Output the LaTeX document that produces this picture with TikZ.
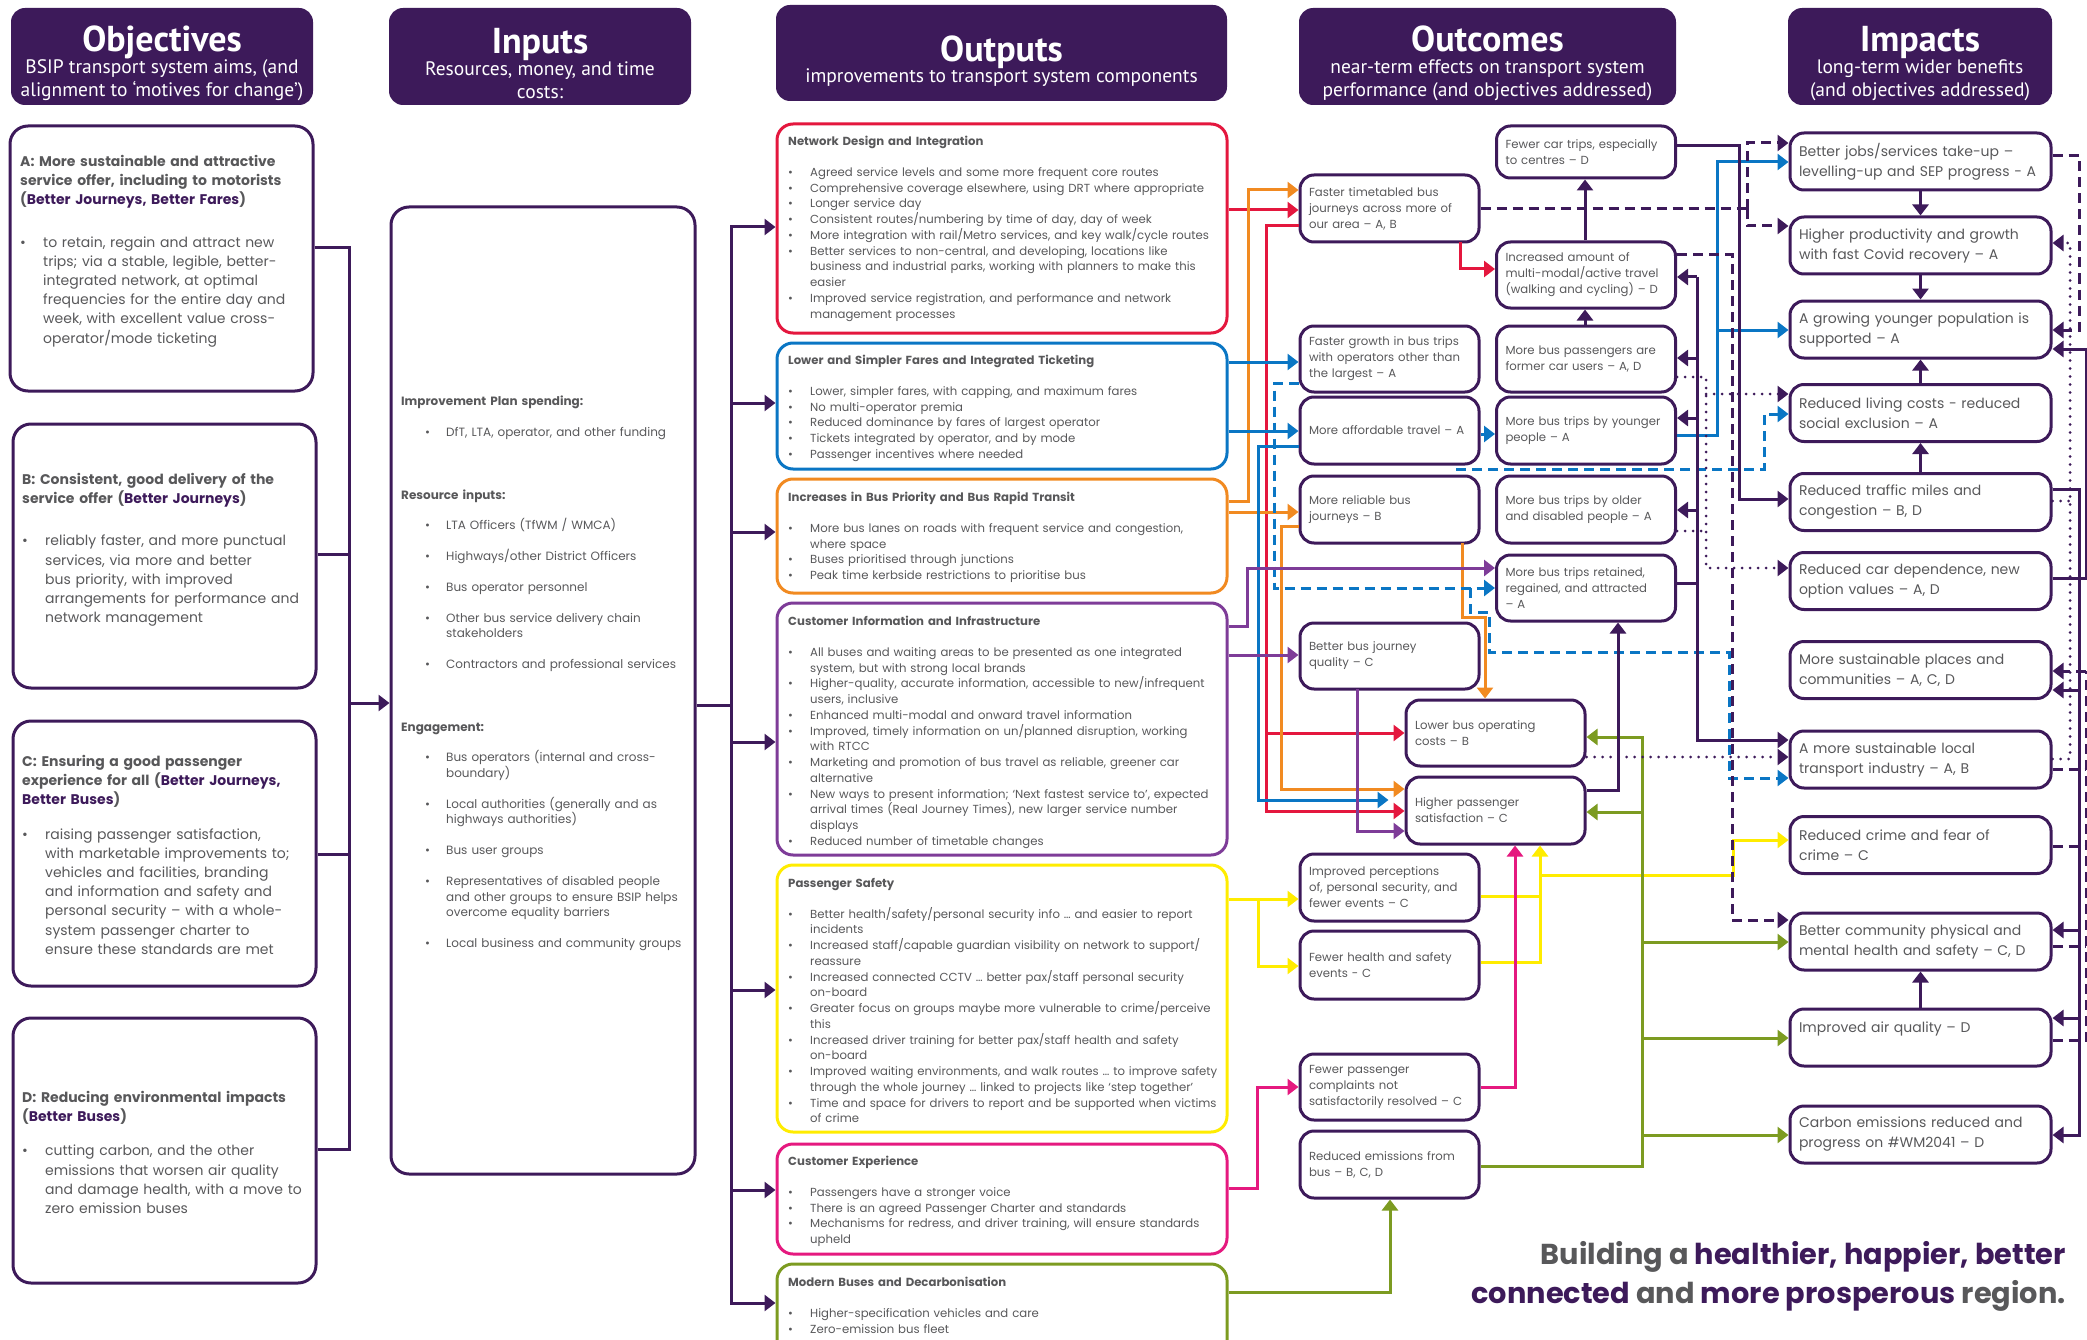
\documentclass[tikz,border=0pt]{standalone}
\usepackage{fontspec}
\setmainfont{Poppins}
\newfontfamily\hdrfont{PT Sans}
\usetikzlibrary{arrows.meta}

\definecolor{dk}{HTML}{3D1A5A}
\definecolor{txt}{HTML}{58585A}
\definecolor{cred}{HTML}{E4173E}
\definecolor{cblue}{HTML}{0A76C4}
\definecolor{corange}{HTML}{F18A21}
\definecolor{cviolet}{HTML}{7E3C98}
\definecolor{cyellow}{HTML}{FFEC00}
\definecolor{cpink}{HTML}{E5197F}
\definecolor{cgreen}{HTML}{7C9B21}

\newlength\bind
\newlength\boff
\newcommand{\bul}[1]{\par\hangindent=\bind\hangafter=1\noindent\hbox to\bind{\hskip\boff\textbullet\hfil}#1\par}

\newcommand{\objtxt}{\fontsize{14}{19.2}\selectfont}
\newcommand{\inptxt}{\fontsize{12}{15.7}\selectfont}
\newcommand{\outtxt}{\fontsize{11.7}{15.75}\selectfont}
\newcommand{\octxt}{\fontsize{11.7}{16}\selectfont}
\newcommand{\imtxt}{\fontsize{14}{20}\selectfont}
\newcommand{\hdtitle}[1]{{\fontsize{36}{36}\selectfont\bfseries #1}}

\begin{document}
\begin{tikzpicture}[x=1pt,y=-1pt,
    >={Triangle[length=11pt,width=16pt]},
    hdr/.style={fill=dk, rounded corners=14pt, inner sep=0pt},
    hdrtxt/.style={text=white, align=center, inner sep=0pt, font=\hdrfont\fontsize{19.5}{23}\selectfont},
    frame/.style={draw=dk, line width=3pt, rounded corners=18pt},
    outfr/.style={line width=3pt, rounded corners=16pt},
    txtblk/.style={anchor=north west, inner sep=0pt, align=left, text=txt},
    ocbox/.style={draw=dk, line width=3pt, rounded corners=14pt, text=txt, align=left,
        inner xsep=9pt, text width=161pt, minimum height=66pt, font=\octxt},
    imbox/.style={draw=dk, line width=3pt, rounded corners=14pt, text=txt, align=left,
        inner xsep=9pt, text width=243pt, minimum height=57pt, font=\imtxt},
    ln/.style={line width=3pt},
    lred/.style={ln, draw=cred},
    lblue/.style={ln, draw=cblue},
    lbluedash/.style={ln, draw=cblue, dash pattern=on 10pt off 6pt},
    lorange/.style={ln, draw=corange},
    lviolet/.style={ln, draw=cviolet},
    lyellow/.style={ln, draw=cyellow},
    lpink/.style={ln, draw=cpink},
    lgreen/.style={ln, draw=cgreen},
    ldk/.style={ln, draw=dk},
    ldkdash/.style={ln, draw=dk, dash pattern=on 10pt off 6pt},
    ldkdot/.style={ln, draw=dk, line cap=round, dash pattern=on 0pt off 8pt}]

\useasboundingbox (0,0) rectangle (2087,1340);
\clip (0,0) rectangle (2087,1340);

% column headers
\node[hdr, minimum width=302pt, minimum height=97pt] (hobj) at (162,56.5) {};
\node[hdr, minimum width=302pt, minimum height=97pt] (hinp) at (540,56.5) {};
\node[hdr, minimum width=451pt, minimum height=96pt] (hout) at (1001.5,53) {};
\node[hdr, minimum width=377pt, minimum height=97pt] (hoc) at (1487.5,56.5) {};
\node[hdr, minimum width=264pt, minimum height=97pt] (him) at (1920,56.5) {};
\node[hdrtxt] (hobjtxt) at (162,63.5)
    {\hdtitle{Objectives}\\[-1pt]BSIP transport system aims, (and\\alignment to ‘motives for change’)};
\node[hdrtxt] (hinptxt) at (540,63.5)
    {\hdtitle{Inputs}\\[-1pt]Resources, money, and time\\costs:};
\node[hdrtxt] (houttxt) at (1001.5,61)
    {\hdtitle{Outputs}\\[-2.5pt]improvements to transport system components};
\node[hdrtxt] (hoctxt) at (1487.5,63.5)
    {\hdtitle{Outcomes}\\[-1pt]near-term effects on transport system\\performance (and objectives addressed)};
\node[hdrtxt] (himtxt) at (1920,63.5)
    {\hdtitle{Impacts}\\[-1pt]long-term wider benefits\\(and objectives addressed)};

% objectives
\node[frame, minimum width=303pt, minimum height=265pt] (objA) at (161.5,258.5) {};
\node[frame, minimum width=303pt, minimum height=264pt] (objB) at (164.5,556) {};
\node[frame, minimum width=303pt, minimum height=265pt] (objC) at (164.5,853.5) {};
\node[frame, minimum width=303pt, minimum height=265pt] (objD) at (164.5,1150.5) {};

\node[txtblk, text width=292pt, font=\objtxt] (objAtxt) at (20,155) {\setlength\bind{23pt}\setlength\boff{0pt}%
\textbf{A: More sustainable and attractive\newline service offer, including to motorists\newline (\textcolor{dk}{Better Journeys, Better Fares})}\par\vspace{23pt}%
\bul{to retain, regain and attract new\newline trips; via a stable, legible, better-\newline integrated network, at optimal\newline frequencies for the entire day and\newline week, with excellent value cross-\newline operator/mode ticketing}};
\node[txtblk, text width=292pt, font=\objtxt] (objBtxt) at (22,473) {\setlength\bind{23pt}\setlength\boff{0pt}%
\textbf{B: Consistent, good delivery of the\newline service offer (\textcolor{dk}{Better Journeys})}\par\vspace{23pt}%
\bul{reliably faster, and more punctual\newline services, via more and better\newline bus priority, with improved\newline arrangements for performance and\newline network management}};
\node[txtblk, text width=292pt, font=\objtxt] (objCtxt) at (22,755) {\setlength\bind{23pt}\setlength\boff{0pt}%
\textbf{C: Ensuring a good passenger\newline experience for all (\textcolor{dk}{Better Journeys,\newline Better Buses})}\par\vspace{15pt}%
\bul{raising passenger satisfaction,\newline with marketable improvements to;\newline vehicles and facilities, branding\newline and information and safety and\newline personal security – with a whole-\newline system passenger charter to\newline ensure these standards are met}};
\node[txtblk, text width=292pt, font=\objtxt] (objDtxt) at (22,1091) {\setlength\bind{23pt}\setlength\boff{0pt}%
\textbf{D: Reducing environmental impacts\newline (\textcolor{dk}{Better Buses})}\par\vspace{15pt}%
\bul{cutting carbon, and the other\newline emissions that worsen air quality\newline and damage health, with a move to\newline zero emission buses}};

% inputs
\node[frame, minimum width=304pt, minimum height=967pt] (inputs) at (543,690.5) {};
\node[txtblk, text width=292pt, font=\inptxt] (inptxt) at (401,396) {\setlength\bind{45pt}\setlength\boff{24pt}\setlength\parskip{15pt}%
\textbf{Improvement Plan spending:}\par
\bul{DfT, LTA, operator, and other funding}\vspace{32pt}%
\textbf{Resource inputs:}\par
\bul{LTA Officers (TfWM / WMCA)}%
\bul{Highways/other District Officers}%
\bul{Bus operator personnel}%
\bul{Other bus service delivery chain\newline stakeholders}%
\bul{Contractors and professional services}\vspace{32pt}%
\textbf{Engagement:}\par
\bul{Bus operators (internal and cross-\newline boundary)}%
\bul{Local authorities (generally and as\newline highways authorities)}%
\bul{Bus user groups}%
\bul{Representatives of disabled people\newline and other groups to ensure BSIP helps\newline overcome equality barriers}%
\bul{Local business and community groups}};

% outputs
\node[outfr, draw=cred, minimum width=450pt, minimum height=209pt] (netdes) at (1002,228.5) {};
\node[outfr, draw=cblue, minimum width=450pt, minimum height=126pt] (fares) at (1002,406) {};
\node[outfr, draw=corange, minimum width=450pt, minimum height=114pt] (prio) at (1002,536) {};
\node[outfr, draw=cviolet, minimum width=450pt, minimum height=252pt] (custinfo) at (1002,729) {};
\node[outfr, draw=cyellow, minimum width=450pt, minimum height=267pt] (safety) at (1002,998.5) {};
\node[outfr, draw=cpink, minimum width=450pt, minimum height=110pt] (custexp) at (1002,1199) {};
\node[outfr, draw=cgreen, minimum width=450pt, minimum height=96pt] (modern) at (1002,1312) {};

\node[txtblk, text width=436pt, font=\outtxt] (netdestxt) at (788,136) {\setlength\bind{22pt}\setlength\boff{0pt}%
\textbf{Network Design and Integration}\par\vspace{15pt}%
\bul{Agreed service levels and some more frequent core routes}%
\bul{Comprehensive coverage elsewhere, using DRT where appropriate}%
\bul{Longer service day}%
\bul{Consistent routes/numbering by time of day, day of week}%
\bul{More integration with rail/Metro services, and key walk/cycle routes}%
\bul{Better services to non-central, and developing, locations like\newline business and industrial parks, working with planners to make this\newline easier}%
\bul{Improved service registration, and performance and network\newline management processes}};
\node[txtblk, text width=436pt, font=\outtxt] (farestxt) at (788,355) {\setlength\bind{22pt}\setlength\boff{0pt}%
\textbf{Lower and Simpler Fares and Integrated Ticketing}\par\vspace{15pt}%
\bul{Lower, simpler fares, with capping, and maximum fares}%
\bul{No multi-operator premia}%
\bul{Reduced dominance by fares of largest operator}%
\bul{Tickets integrated by operator, and by mode}%
\bul{Passenger incentives where needed}};
\node[txtblk, text width=436pt, font=\outtxt] (priotxt) at (788,492) {\setlength\bind{22pt}\setlength\boff{0pt}%
\textbf{Increases in Bus Priority and Bus Rapid Transit}\par\vspace{15pt}%
\bul{More bus lanes on roads with frequent service and congestion,\newline where space}%
\bul{Buses prioritised through junctions}%
\bul{Peak time kerbside restrictions to prioritise bus}};
\node[txtblk, text width=436pt, font=\outtxt] (custinfotxt) at (788,616) {\setlength\bind{22pt}\setlength\boff{0pt}%
\textbf{Customer Information and Infrastructure}\par\vspace{15pt}%
\bul{All buses and waiting areas to be presented as one integrated\newline system, but with strong local brands}%
\bul{Higher-quality, accurate information, accessible to new/infrequent\newline users, inclusive}%
\bul{Enhanced multi-modal and onward travel information}%
\bul{Improved, timely information on un/planned disruption, working\newline with RTCC}%
\bul{Marketing and promotion of bus travel as reliable, greener car\newline alternative}%
\bul{New ways to present information; ‘Next fastest service to’, expected\newline arrival times (Real Journey Times), new larger service number\newline displays}%
\bul{Reduced number of timetable changes}};
\node[txtblk, text width=436pt, font=\outtxt] (safetytxt) at (788,878) {\setlength\bind{22pt}\setlength\boff{0pt}%
\textbf{Passenger Safety}\par\vspace{15pt}%
\bul{Better health/safety/personal security info … and easier to report\newline incidents}%
\bul{Increased staff/capable guardian visibility on network to support/\newline reassure}%
\bul{Increased connected CCTV … better pax/staff personal security\newline on-board}%
\bul{Greater focus on groups maybe more vulnerable to crime/perceive\newline this}%
\bul{Increased driver training for better pax/staff health and safety\newline on-board}%
\bul{Improved waiting environments, and walk routes … to improve safety\newline through the whole journey … linked to projects like ‘step together’}%
\bul{Time and space for drivers to report and be supported when victims\newline of crime}};
\node[txtblk, text width=436pt, font=\outtxt] (custexptxt) at (788,1156) {\setlength\bind{22pt}\setlength\boff{0pt}%
\textbf{Customer Experience}\par\vspace{15pt}%
\bul{Passengers have a stronger voice}%
\bul{There is an agreed Passenger Charter and standards}%
\bul{Mechanisms for redress, and driver training, will ensure standards\newline upheld}};
\node[txtblk, text width=436pt, font=\outtxt] (moderntxt) at (788,1277) {\setlength\bind{22pt}\setlength\boff{0pt}%
\textbf{Modern Buses and Decarbonisation}\par\vspace{15pt}%
\bul{Higher-specification vehicles and care}%
\bul{Zero-emission bus fleet}};

% outcomes
\node[ocbox, minimum height=52pt] (fewcar) at (1586,152) {Fewer car trips, especially\newline to centres – D};
\node[ocbox, minimum height=67pt] (fasttt) at (1389.5,208.5) {Faster timetabled bus\newline journeys across more of\newline our area – A, B};
\node[ocbox] (active) at (1586,275) {Increased amount of\newline multi-modal/active travel\newline (walking and cycling) – D};
\node[ocbox] (growth) at (1389.5,359) {Faster growth in bus trips\newline with operators other than\newline the largest – A};
\node[ocbox] (formcar) at (1586,359) {More bus passengers are\newline former car users – A, D};
\node[ocbox, minimum height=67pt] (afford) at (1389.5,430.5) {More affordable travel – A};
\node[ocbox, minimum height=67pt] (younger) at (1586,430.5) {More bus trips by younger\newline people – A};
\node[ocbox, minimum height=67pt] (reliab) at (1389.5,509.5) {More reliable bus\newline journeys – B};
\node[ocbox, minimum height=67pt] (older) at (1586,509.5) {More bus trips by older\newline and disabled people – A};
\node[ocbox] (retain) at (1586,588) {More bus trips retained,\newline regained, and attracted\newline – A};
\node[ocbox] (quality) at (1389.5,656) {Better bus journey\newline quality – C};
\node[ocbox] (opcost) at (1495.5,733) {Lower bus operating\newline costs – B};
\node[ocbox, minimum height=67pt] (satisf) at (1495.5,810.5) {Higher passenger\newline satisfaction – C};
\node[ocbox, minimum height=67pt] (percep) at (1389.5,887.5) {Improved perceptions\newline of, personal security, and\newline fewer events – C};
\node[ocbox, minimum height=68pt] (health) at (1389.5,965) {Fewer health and safety\newline events - C};
\node[ocbox] (complain) at (1389.5,1087) {Fewer passenger\newline complaints not\newline satisfactorily resolved – C};
\node[ocbox, minimum height=67pt] (emiss) at (1389.5,1164.5) {Reduced emissions from\newline bus – B, C, D};

% impacts
\node[imbox] (jobs) at (1920.5,161.5) {Better jobs/services take-up –\newline levelling-up and SEP progress - A};
\node[imbox] (product) at (1920.5,245.5) {Higher productivity and growth\newline with fast Covid recovery – A};
\node[imbox] (youngpop) at (1920.5,329.5) {A growing younger population is\newline supported – A};
\node[imbox] (living) at (1920.5,413) {Reduced living costs - reduced\newline social exclusion – A};
\node[imbox] (traffic) at (1920.5,502) {Reduced traffic miles and\newline congestion – B, D};
\node[imbox] (cardep) at (1920.5,581) {Reduced car dependence, new\newline option values – A, D};
\node[imbox] (places) at (1920.5,670) {More sustainable places and\newline communities – A, C, D};
\node[imbox] (industry) at (1920.5,759.5) {A more sustainable local\newline transport industry – A, B};
\node[imbox] (crime) at (1920.5,845) {Reduced crime and fear of\newline crime – C};
\node[imbox] (community) at (1920.5,941.5) {Better community physical and\newline mental health and safety – C, D};
\node[imbox] (air) at (1920.5,1037.5) {Improved air quality – D\newline\mbox{}};
\node[imbox] (carbon) at (1920.5,1134.5) {Carbon emissions reduced and\newline progress on \#WM2041 – D};

% slogan
\node[anchor=east, inner sep=0pt, font=\fontsize{28.8}{31}\selectfont\bfseries] (slogan1) at (2066,1257)
    {\textcolor{txt}{Building a} \textcolor{dk}{healthier, happier, better}};
\node[anchor=east, inner sep=0pt, font=\fontsize{28.8}{31}\selectfont\bfseries] (slogan2) at (2066,1296)
    {\textcolor{dk}{connected} \textcolor{txt}{and} \textcolor{dk}{more prosperous} \textcolor{txt}{region.}};

% objectives -> inputs -> outputs
\coordinate (objbus) at (349,703);
\draw[ldk] (objA.east |- 0,248) -| (objbus);
\draw[ldk] (objB.east |- 0,554) -| (objbus);
\draw[ldk] (objC.east |- 0,854) -| (objbus);
\draw[ldk] (objD.east |- 0,1149) -| (objbus);
\draw[ldk,->] (objbus) -- (inputs.west |- objbus);
\coordinate (outbus) at (731,705);
\draw[ldk] (inputs.east |- outbus) -- (outbus);
\draw[ldk,line cap=rect] (731,227) -- (731,1303);
\foreach \n/\y in {netdes/227, fares/403, prio/532, custinfo/742, safety/990, custexp/1190, modern/1303}
    \draw[ldk,->] (731,\y) -- (\n.west |- 0,\y);

% outputs -> outcomes
\draw[lred,->] (netdes.east |- 0,210) -- (fasttt.west |- 0,210);
\draw[lred,->] (fasttt.west |- 0,226) -- (1266,226) -- (1266,811) -- (satisf.west |- 0,811);
\draw[lred,->] (1266,733) -- (opcost.west |- 0,733);
\draw[lred,->] (1460,242) -- (1460,269) -- (active.west |- 0,269);

\draw[lorange,->] (prio.east |- 0,501) -- (1248,501) -- (1248,190) -- (fasttt.west |- 0,190);
\draw[lorange,->] (prio.east |- 0,512) -- (reliab.west |- 0,512);
\draw[lorange,->] (reliab.west |- 0,526) -- (1281,526) -- (1281,789) -- (satisf.west |- 0,789);
\draw[lorange,->] (1462,543) -- (1462,617) -- (1485,617) -- (opcost.north -| 1485,0);

\draw[lblue,->] (fares.east |- 0,362) -- (growth.west |- 0,362);
\draw[lblue,->] (fares.east |- 0,431) -- (afford.west |- 0,431);
\draw[lblue,->,shorten >=16pt] (afford.west |- 0,446) -- (1258,446) -- (1258,800) -- (satisf.west |- 0,800);
\draw[lblue,->] (afford.east |- 0,434) -- (younger.west |- 0,434);
\draw[lblue,->] (younger.east |- 0,435) -- (1717,435) -- (1717,162) -- (jobs.west |- 0,162);
\draw[lblue,->] (1717,330) -- (youngpop.west |- 0,330);
\draw[lbluedash,->] (growth.west |- 0,383) -- (1274,383) -- (1274,588) -- (retain.west |- 0,588);
\draw[lbluedash,->] (1470,588) -- (1470,612) -- (1489,612) -- (1489,652) -- (1729,652) -- (1729,778) -- (industry.west |- 0,778);
\draw[lbluedash,->] (1456,469) -- (1764,469) -- (1764,414) -- (living.west |- 0,414);

\draw[lviolet,->] (custinfo.east |- 0,626) -- (1247,626) -- (1247,568) -- (retain.west |- 0,568);
\draw[lviolet,->] (custinfo.east |- 0,655) -- (quality.west |- 0,655);
\draw[lviolet,->] (1357,689) -- (1357,831) -- (satisf.west |- 0,831);

\draw[lyellow,->] (safety.east |- 0,899) -- (percep.west |- 0,899);
\draw[lyellow,->] (1258,899) -- (1258,966) -- (health.west |- 0,966);
\draw[lyellow] (percep.east |- 0,896) -- (1540,896);
\draw[lyellow,->] (health.east |- 0,962) -- (1540,962) -- (satisf.south -| 1540,0);
\draw[lyellow,->] (1540,875) -- (1733,875) -- (1733,840) -- (crime.west |- 0,840);

\draw[lpink,->] (custexp.east |- 0,1188) -- (1257,1188) -- (1257,1087) -- (complain.west |- 0,1087);
\draw[lpink,->] (complain.east |- 0,1087) -- (1515,1087) -- (satisf.south -| 1515,0);

\draw[lgreen,->] (modern.east |- 0,1292) -- (1390,1292) -- (emiss.south -| 1390,0);
\draw[lgreen,->] (emiss.east |- 0,1166) -- (1642,1166) -- (1642,737) -- (opcost.east |- 0,737);
\draw[lgreen,->] (1642,812) -- (satisf.east |- 0,812);
\draw[lgreen,->] (1642,942) -- (community.west |- 0,942);
\draw[lgreen,->] (1642,1038) -- (air.west |- 0,1038);
\draw[lgreen,->] (1642,1135) -- (carbon.west |- 0,1135);

% outcomes -> outcomes and impacts
\draw[ldk,->] (active.north -| 1585,0) -- (fewcar.south -| 1585,0);
\draw[ldk,->] (formcar.north -| 1585,0) -- (active.south -| 1585,0);
\draw[ldk,->] (satisf.east |- 0,790) -- (1618,790) -- (retain.south -| 1618,0);
\draw[ldk,->] (fewcar.east |- 0,146) -- (1739,146) -- (1739,499) -- (traffic.west |- 0,499);
\draw[ldk] (retain.east |- 0,583) -- (1697,583);
\draw[ldk,->] (1697,277) -- (1697,740) -- (industry.west |- 0,740);
\foreach \n/\y in {active/277, formcar/358, younger/418, older/510}
    \draw[ldk,->] (1697,\y) -- (\n.east |- 0,\y);
\draw[ldkdash] (fasttt.east |- 0,209) -- (1747,209);
\draw[ldkdash,->] (1747,209) -- (1747,143) -- (jobs.west |- 0,143);
\draw[ldkdash,->] (1747,209) -- (1747,226) -- (product.west |- 0,226);
\draw[ldkdash,->] (active.east |- 0,255) -- (1732,255) -- (1732,920) -- (community.west |- 0,920);
\draw[ldkdot,->] (formcar.east |- 0,377) -- (1706,377) -- (1706,568) -- (cardep.west |- 0,568);
\draw[ldkdot,->] (1706,394) -- (living.west |- 0,394);
\draw[ldkdot] (older.east |- 0,531) -- (1706,531);
\draw[ldkdot,->] (opcost.east |- 0,757) -- (industry.west |- 0,757);

% impacts links
\draw[ldk,->] (jobs.south) -- (product.north);
\draw[ldk,->] (product.south) -- (youngpop.north);
\draw[ldk,->] (living.north) -- (youngpop.south);
\draw[ldk,->] (traffic.north) -- (living.south);
\draw[ldk,->] (air.north) -- (community.south);
\draw[ldkdash,->] (jobs.east |- 0,156) -- (2079,156) -- (2079,330) -- (youngpop.east |- 0,330);
\draw[ldk,->] (traffic.east |- 0,489) -- (2079,489) -- (2079,1135) -- (carbon.east |- 0,1135);
\foreach \n/\y in {places/690, community/930, air/1018}
    \draw[ldk,->] (2079,\y) -- (\n.east |- 0,\y);
\draw[ldk,->] (cardep.east |- 0,578) -- (2086,578) -- (2086,349) -- (youngpop.east |- 0,349);
\draw[ldkdot,->] (industry.east |- 0,759) -- (2070,759) -- (2070,243) -- (product.east |- 0,243);
\draw[ldkdot] (traffic.east |- 0,501) -- (2070,501);
\draw[ldkdash] (air.east |- 0,1040) -- (2086,1040) -- (2086,671);
\draw[ldkdash,->] (2086,671) -- (places.east |- 0,671);
\foreach \n/\y in {industry/769, crime/846, community/946}
    \draw[ldkdash] (\n.east |- 0,\y) -- (2086,\y);
\end{tikzpicture}
\end{document}
